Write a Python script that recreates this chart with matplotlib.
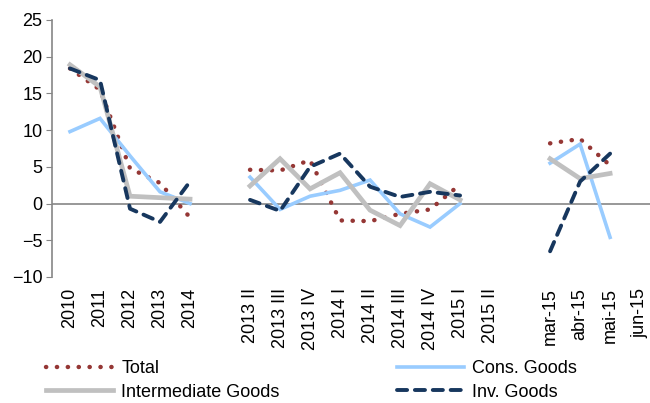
import numpy as np
import matplotlib.pyplot as plt

plt.rcParams['font.family'] = ['Liberation Sans', 'DejaVu Sans']

nan = np.nan
categories = ['2010', '2011', '2012', '2013', '2014', '',
              '2013 II', '2013 III', '2013 IV', '2014 I', '2014 II',
              '2014 III', '2014 IV', '2015 I', '2015 II', '',
              'mar-15', 'abr-15', 'mai-15', 'jun-15']

total = [18.4, 15.5, 4.8, 2.8, -1.9, nan,
         4.6, 4.5, 5.9, -2.3, -2.4, -1.4, -0.8, 2.6, nan, nan,
         8.2, 8.8, 5.2, nan]
cons = [9.8, 11.6, 6.5, 1.6, 0.0, nan,
        3.6, -0.8, 1.0, 1.8, 3.2, -1.4, -3.2, 0.0, nan, nan,
        5.5, 8.1, -4.6, nan]
inter = [18.9, 15.9, 1.0, 0.8, 0.6, nan,
         2.4, 6.1, 2.0, 4.2, -0.9, -3.0, 2.7, 0.5, nan, nan,
         6.1, 3.4, 4.1, nan]
inv = [18.4, 16.8, -0.7, -2.5, 3.0, nan,
       0.5, -1.0, 5.0, 6.8, 2.3, 0.9, 1.6, 1.1, nan, nan,
       -6.5, 3.0, 6.8, nan]

x = np.arange(len(categories))

fig = plt.figure(figsize=(6.5, 4.03), dpi=100)
ax = fig.add_axes([0.08, 0.3127, 0.92, 0.6377])

ax.axhline(0, color='#868686', lw=1.2, zorder=1)

l_tot, = ax.plot(x, total, color='#953735', lw=3.2, linestyle=(0, (0.05, 2.4)),
                 dash_capstyle='round', label='Total', zorder=3)
l_cons, = ax.plot(x, cons, color='#99CCFF', lw=2.6, label='Cons. Goods', zorder=3,
                  solid_joinstyle='miter')
l_int, = ax.plot(x, inter, color='#C0C0C0', lw=3.4, label='Intermediate Goods',
                 zorder=3, solid_joinstyle='miter')
l_inv, = ax.plot(x, inv, color='#17375E', lw=2.8, linestyle=(0, (2.6, 2.0)),
                 dash_capstyle='round', label='Inv. Goods', zorder=4)

ax.set_xlim(-0.6, 19.33)
ax.set_ylim(-10, 25)
ax.set_yticks(np.arange(-10, 26, 5))
ax.set_xticks(x)
ax.set_xticklabels(categories, rotation=90, fontsize=13)
ax.tick_params(axis='x', length=0, pad=8)
ax.tick_params(axis='y', direction='out', length=4, color='#868686',
               labelsize=13, pad=3)

for s in ['top', 'right', 'bottom']:
    ax.spines[s].set_visible(False)
ax.spines['left'].set_color('#868686')
ax.spines['left'].set_linewidth(1.2)

handles = [l_tot, l_int, l_cons, l_inv]
fig.legend(handles, [h.get_label() for h in handles],
           loc='lower left', bbox_to_anchor=(0.06, -0.012), ncol=2,
           frameon=False, fontsize=13, handlelength=3.7, handletextpad=0.45,
           columnspacing=6.5, labelspacing=0.35, borderaxespad=0.0)

fig.savefig('out.png', dpi=100, facecolor='white')
